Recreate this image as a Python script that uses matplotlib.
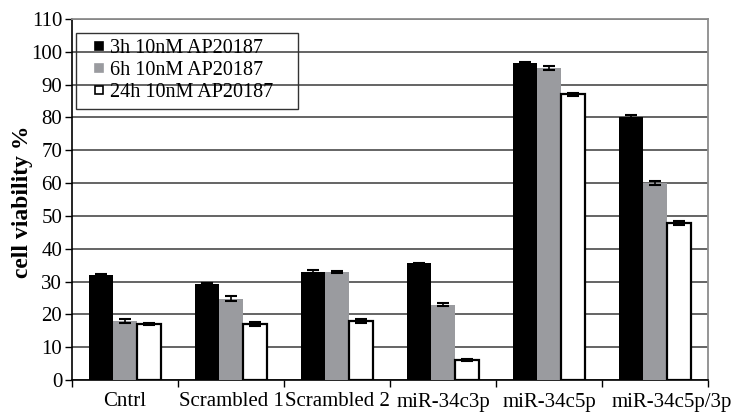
import numpy as np
import matplotlib
matplotlib.use('Agg')
import matplotlib.pyplot as plt
import matplotlib.transforms as mtransforms
from matplotlib.lines import Line2D
from matplotlib.patches import Rectangle
from matplotlib.ticker import FixedLocator

plt.rcParams['font.family'] = ['Liberation Serif', 'DejaVu Serif']

# Viabilidad celular por grupo y tiempo de tratamiento
categorias = ['Cntrl', 'Scrambled 1', 'Scrambled 2', 'miR-34c3p', 'miR-34c5p', 'miR-34c5p/3p']
series = ['3h 10nM AP20187', '6h 10nM AP20187', '24h 10nM AP20187']
viab_3h = [32.0, 29.3, 33.0, 35.5, 96.5, 80.2]
viab_6h = [18.0, 24.8, 32.9, 23.0, 95.1, 60.0]
viab_24h = [17.0, 17.0, 18.0, 6.0, 87.0, 47.8]
err_3h = [0.3, 0.4, 0.5, 0.3, 0.4, 0.4]
err_6h = [0.7, 0.8, 0.4, 0.4, 0.6, 0.5]
err_24h = [0.3, 0.6, 0.6, 0.3, 0.5, 0.5]

valores = [viab_3h, viab_6h, viab_24h]
errores = [err_3h, err_6h, err_24h]
colores = ['black', '#9a9b9f', 'white']
bordes = ['black', '#9a9b9f', 'black']

fig = plt.figure(figsize=(7.53, 4.16), dpi=100)
ax = fig.add_axes([72 / 753, 36 / 416, 636 / 753, 361 / 416])

x = np.arange(len(categorias))
ancho = 0.225
for i in range(3):
    pos = x + (i - 1) * ancho
    ax.bar(pos, valores[i], ancho, color=colores[i], edgecolor=bordes[i],
           linewidth=1.6 if i == 2 else 0, zorder=3)
    ax.errorbar(pos, valores[i], yerr=errores[i], fmt='none', ecolor='black',
                elinewidth=1.2, capsize=4, capthick=1.5, zorder=4)

ax.set_xlim(-0.5, len(categorias) - 0.5)
ax.set_ylim(0, 110)
ax.set_yticks(np.arange(0, 111, 10))
ax.yaxis.grid(True, color='#3a3a3a', linewidth=1.1, zorder=0)
ax.set_axisbelow(True)

# etiquetas centradas, marcas entre categorias
ax.set_xticks(x)
ax.set_xticklabels(categorias)
ax.xaxis.set_minor_locator(FixedLocator(np.arange(-0.5, len(categorias), 1.0)))
ax.tick_params(axis='x', which='major', length=0, labelsize=15, pad=9)
ax.tick_params(axis='x', which='minor', length=5, width=1, direction='out')
ax.tick_params(axis='y', length=5, width=1, labelsize=15, pad=2)

# la ultima etiqueta se desplaza a la derecha para no chocar con la anterior
ultima = ax.get_xticklabels()[-1]
ultima.set_transform(ultima.get_transform() +
                     mtransforms.ScaledTranslation(17 / 100, 0, fig.dpi_scale_trans))

for lado in ['top', 'right']:
    ax.spines[lado].set_color('#8c8c8c')
    ax.spines[lado].set_linewidth(1.3)
for lado in ['left', 'bottom']:
    ax.spines[lado].set_color('black')
    ax.spines[lado].set_linewidth(1.2)

ax.set_ylabel('cell viability %', fontsize=17, fontweight='bold')
ax.yaxis.set_label_coords(-0.0613, 0.494)

# leyenda: marco fijo y marcadores cuadrados
marco = Rectangle((0.0063, 0.751), 0.349, 0.210, transform=ax.transAxes,
                  facecolor='none', edgecolor='#333333', linewidth=1.0, zorder=5)
ax.add_patch(marco)
manejadores = [Line2D([], [], linestyle='none', marker='s', markersize=6,
                      markerfacecolor=colores[i], markeredgecolor=bordes[i],
                      markeredgewidth=1.2)
               for i in range(3)]
ax.legend(manejadores, series, loc='upper left', bbox_to_anchor=(0.0063, 0.961),
          fontsize=14.5, frameon=False, handlelength=1.7, handletextpad=-0.3,
          labelspacing=0.15, borderpad=0.3, borderaxespad=0)

fig.savefig('out.png', dpi=100)
